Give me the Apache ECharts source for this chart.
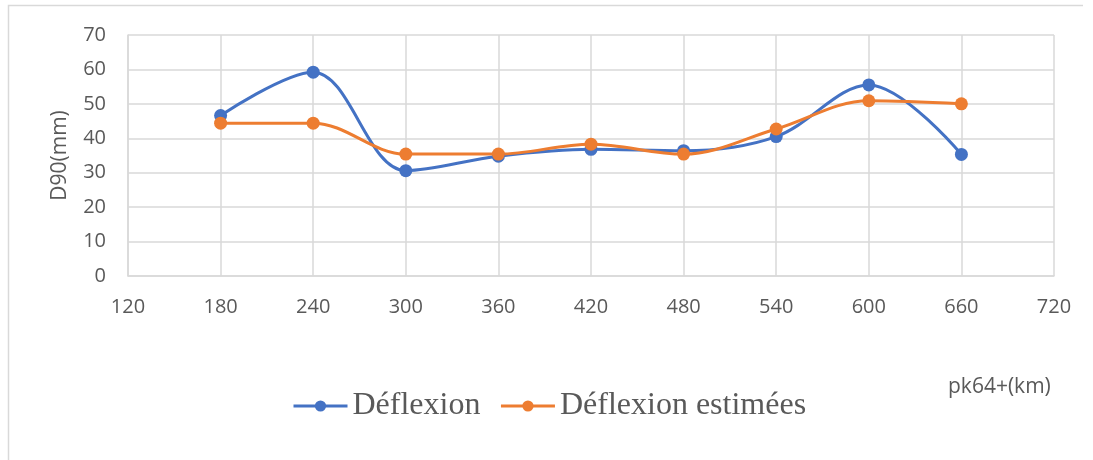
<!DOCTYPE html>
<html>
<head>
<meta charset="utf-8">
<script src="https://cdn.jsdelivr.net/npm/echarts@6/dist/echarts.min.js"></script>
<style>
  html, body { margin: 0; padding: 0; background: #fff; }
  #chart { width: 1093px; height: 460px; }
</style>
</head>
<body>
<div id="chart"></div>
<script>
// Chainage positions (m after PK64) and deflection values (mm)
const positions = [180, 240, 300, 360, 420, 480, 540, 600, 660];
const deflexion = [46.6, 59.2, 30.6, 34.8, 36.8, 36.4, 40.5, 55.5, 35.3];
const deflexionEstimees = [44.4, 44.4, 35.4, 35.4, 38.3, 35.4, 42.7, 50.9, 50.0];

const xTicks = { min: 120, max: 720, step: 60 };
const yTicks = { min: 0, max: 70, step: 10 };

const pairs = (xs, ys) => xs.map((x, i) => [x, ys[i]]);

const chart = echarts.init(document.getElementById('chart'), null, { renderer: 'canvas' });

const sansFont = '"Open Sans", "Liberation Sans", sans-serif';
const tickFont = { color: '#595959', fontSize: 20, fontFamily: sansFont };
const gridLine = { lineStyle: { color: '#d9d9d9', width: 1.5 } };

chart.setOption({
  animation: false,
  backgroundColor: '#fff',
  graphic: [
    {
      type: 'polyline',
      shape: { points: [[8.5, 470], [8.5, 5.5], [1083, 5.5]] },
      style: { fill: null, stroke: '#d9d9d9', lineWidth: 1.5 },
      silent: true
    },
    {
      type: 'text',
      left: 948, top: 377,
      style: { text: 'pk64+(km)', fill: '#595959', fontSize: 21, fontFamily: sansFont }
    }
  ],
  grid: { left: 128, right: 39, top: 35, bottom: 184, containLabel: false },
  legend: {
    left: 287, top: 385,
    itemWidth: 54, itemHeight: 14, itemGap: 19,
    lineStyle: { width: 3 },
    textStyle: { color: '#595959', fontSize: 32, fontFamily: '"Liberation Serif", "DejaVu Serif", serif' },
    data: [
      { name: 'Déflexion', lineStyle: { width: 3, color: '#4472c4' } },
      { name: 'Déflexion estimées', lineStyle: { width: 3, color: '#ed7d31' } }
    ]
  },
  xAxis: {
    type: 'value',
    min: xTicks.min, max: xTicks.max, interval: xTicks.step,
    axisLine: { show: true, lineStyle: { color: '#d9d9d9', width: 1.5 } },
    axisTick: { show: false },
    axisLabel: Object.assign({ margin: 21 }, tickFont),
    splitLine: Object.assign({ show: true }, gridLine)
  },
  yAxis: {
    type: 'value',
    min: yTicks.min, max: yTicks.max, interval: yTicks.step,
    name: 'D90(mm)',
    nameLocation: 'middle',
    nameGap: 57,
    nameRotate: 90,
    nameTextStyle: { color: '#595959', fontSize: 21, fontFamily: sansFont },
    axisLine: { show: true, lineStyle: { color: '#d9d9d9', width: 1.5 } },
    axisTick: { show: false },
    axisLabel: Object.assign({ margin: 22 }, tickFont),
    splitLine: Object.assign({ show: true }, gridLine)
  },
  series: [
    {
      name: 'Déflexion',
      type: 'line',
      smooth: 0.35,
      data: pairs(positions, deflexion),
      symbol: 'circle',
      symbolSize: 13,
      itemStyle: { color: '#4472c4' },
      lineStyle: { color: '#4472c4', width: 3 }
    },
    {
      name: 'Déflexion estimées',
      type: 'line',
      smooth: 0.35,
      data: pairs(positions, deflexionEstimees),
      symbol: 'circle',
      symbolSize: 13,
      itemStyle: { color: '#ed7d31' },
      lineStyle: { color: '#ed7d31', width: 3 }
    }
  ]
});
</script>
</body>
</html>
